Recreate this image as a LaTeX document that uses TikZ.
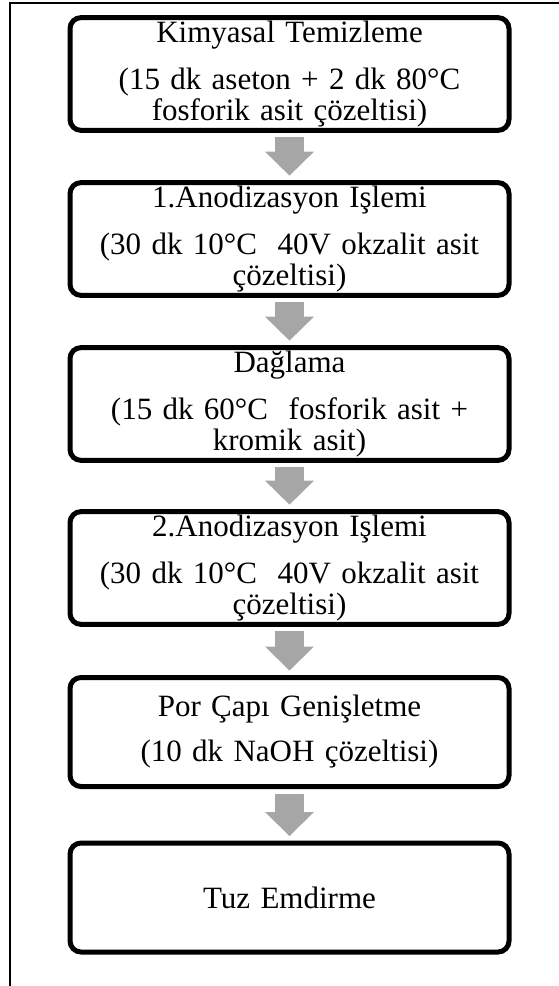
\documentclass[tikz,border=0pt]{standalone}
\usepackage{fontspec}
\setmainfont{Liberation Serif}
\usetikzlibrary{arrows.meta}
\definecolor{arrowgray}{RGB}{166,166,166}
\tikzset{
  stepbox/.style={draw, line width=5pt, rounded corners=11pt,
    minimum width=439pt, minimum height=109pt, text width=439pt,
    inner xsep=0pt, align=center, font=\fontsize{31}{31}\selectfont},
  flow/.style={draw=arrowgray, line width=29pt,
    -{Triangle[width=49pt,length=24pt,line width=0pt]},
    shorten <=4.5pt, shorten >=4.5pt}
}

\begin{document}
\begin{tikzpicture}[x=1pt,y=1pt]
  \useasboundingbox (0,0) rectangle (559,-986);
  % frame
  \draw[line width=2pt] (559,-3) -- (10,-3) -- (10,-986);
  \draw
    (289.5,-74) node[stepbox] (1) {Kimyasal Temizleme\\[16pt](15 dk aseton + 2 dk 80°C\\fosforik asit çözeltisi)}
    (289.5,-239) node[stepbox] (2) {1.Anodizasyon Işlemi\\[16pt](30 dk 10°C~ 40V okzalit asit\\çözeltisi)}
    (289.5,-404) node[stepbox] (3) {Dağlama\\[16pt](15 dk 60°C~ fosforik asit +\\kromik asit)}
    (289.5,-568) node[stepbox] (4) {2.Anodizasyon Işlemi\\[16pt](30 dk 10°C~ 40V okzalit asit\\çözeltisi)}
    (289.5,-732) node[stepbox] (5) {Por Çapı Genişletme\\[14pt](10 dk NaOH çözeltisi)}
    (289.5,-897.5) node[stepbox] (6) {Tuz Emdirme};
  \begin{scope}[flow]
    \draw (1) to (2);
    \draw (2) to (3);
    \draw (3) to (4);
    \draw (4) to (5);
    \draw (5) to (6);
  \end{scope}
\end{tikzpicture}
\end{document}
